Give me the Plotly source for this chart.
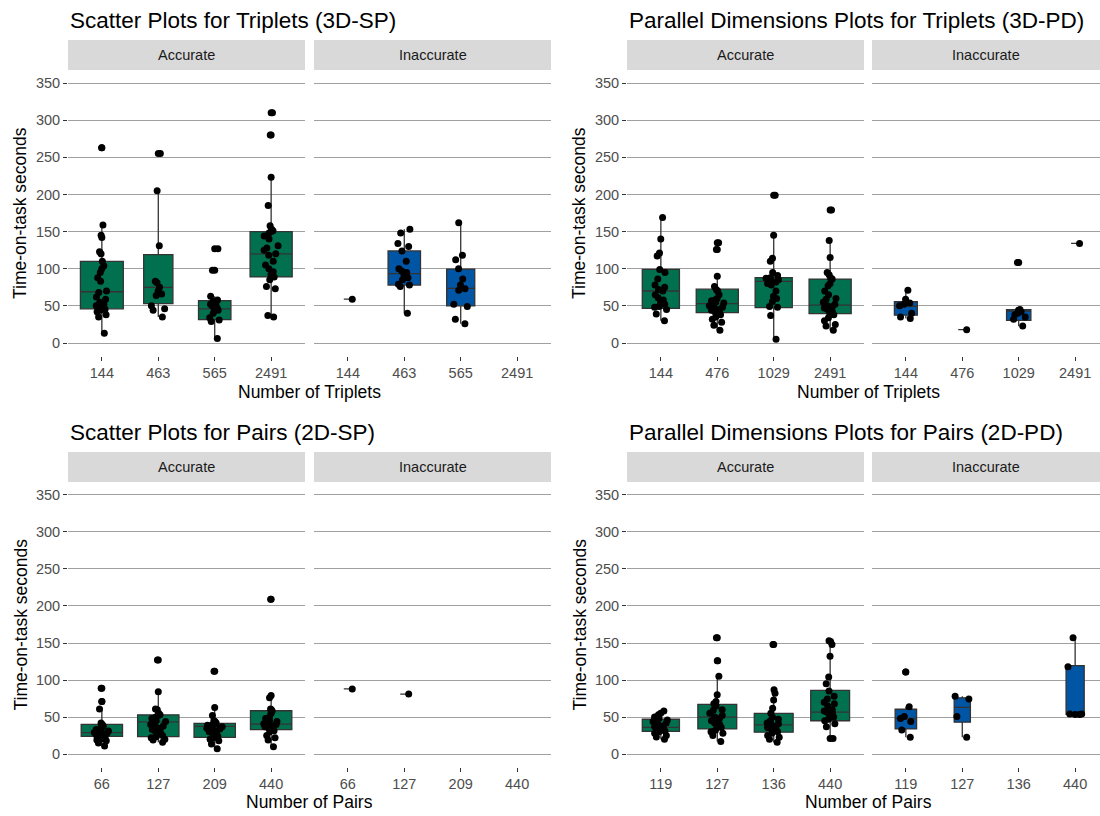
import math
import plotly.graph_objects as go

# ---------------- DATA ----------------
TRIPLET_SP_CATS = ["144", "463", "565", "2491"]
TRIPLET_PD_CATS = ["144", "476", "1029", "2491"]
PAIR_SP_CATS = ["66", "127", "209", "440"]
PAIR_PD_CATS = ["119", "127", "136", "440"]

# 3D-SP Accurate
SP3_ACC_PTS = [
    [263, 159, 145, 142, 123, 120, 110, 104, 100, 95, 88, 83, 70, 68, 62, 59, 55, 52, 50, 49, 47, 46, 45, 44, 42, 38, 35, 13],
    [255, 205, 131, 83, 81, 75, 70, 66, 64, 50, 46, 44, 35],
    [127, 98, 63, 58, 56, 53, 52, 50, 47, 45, 44, 40, 34, 31, 29, 6],
    [310, 280, 223, 185, 158, 153, 151, 150, 148, 144, 140, 131, 128, 125, 120, 118, 110, 105, 100, 96, 92, 89, 85, 76, 73, 37, 35],
]
SP3_ACC_Q1 = [46, 53, 31.5, 89]
SP3_ACC_MED = [69, 75, 46, 120]
SP3_ACC_Q3 = [110, 119, 57, 150]
SP3_ACC_LO = [13, 35, 6, 35]
SP3_ACC_HI = [159, 206, 63, 223]

# 3D-SP Inaccurate
SP3_INA_PTS = [
    [59],
    [153, 148, 134, 130, 124, 110, 100, 97, 95, 92, 88, 85, 79, 78, 76, 40],
    [162, 118, 112, 100, 86, 78, 73, 71, 52, 49, 32, 26],
    [],
]
SP3_INA_Q1 = [59, 78, 50, None]
SP3_INA_MED = [59, 93.5, 73.5, None]
SP3_INA_Q3 = [59, 124, 99.5, None]
SP3_INA_LO = [59, 40, 26, None]
SP3_INA_HI = [59, 153, 162, None]

# 3D-PD Accurate
PD3_ACC_PTS = [
    [169, 140, 121, 117, 99, 95, 86, 78, 75, 72, 70, 65, 61, 58, 55, 52, 49, 48, 45, 39, 30],
    [135, 126, 90, 76, 72, 70, 65, 60, 58, 57, 55, 54, 52, 50, 48, 47, 45, 44, 42, 41, 40, 38, 35, 32, 28, 24, 17],
    [199, 145, 114, 110, 95, 91, 88, 87, 85, 84, 82, 80, 78, 70, 63, 60, 56, 49, 48, 37, 5],
    [179, 138, 115, 95, 92, 88, 86, 80, 77, 70, 65, 60, 59, 55, 52, 50, 49, 47, 45, 42, 40, 38, 34, 30, 25, 23, 17],
]
PD3_ACC_Q1 = [46.5, 41, 47.5, 39.5]
PD3_ACC_MED = [70, 53, 83, 51]
PD3_ACC_Q3 = [99, 72.5, 88, 86]
PD3_ACC_LO = [30, 17, 5, 17]
PD3_ACC_HI = [169, 90, 145, 138]

# 3D-PD Inaccurate
PD3_INA_PTS = [
    [71, 59, 54, 52, 50, 40, 35, 33],
    [18],
    [108.5, 45, 44, 42, 40, 38, 35, 32, 23],
    [134],
]
PD3_INA_Q1 = [37.5, 18, 30.5, 134]
PD3_INA_MED = [49.5, 18, 43, 134]
PD3_INA_Q3 = [55.5, 18, 45, 134]
PD3_INA_LO = [33, 18, 22.5, 134]
PD3_INA_HI = [71, 18, 45, 134]

# 2D-SP Accurate
SP2_ACC_PTS = [
    [89, 71, 61, 42, 40, 38, 36, 35, 33, 32, 31, 30, 29, 28, 27, 27, 26, 25, 24, 23.5, 22, 20, 19, 18, 15, 11],
    [127, 84, 61, 60, 55, 53, 52, 50, 48, 45, 44, 42, 40, 38, 37, 35, 33, 30, 28, 27, 25, 23.5, 22, 20, 19, 16],
    [112, 63, 52, 45, 44, 42, 41, 40, 39, 38, 37, 36, 35, 34, 33, 31, 30, 28, 27, 25, 24, 22, 20, 18, 13.5, 7],
    [209, 79, 76, 61, 60, 58, 55, 50, 48, 45, 44, 42, 41, 40, 39, 38, 37, 35, 34, 33, 31.6, 30, 25, 22, 19, 10],
]
SP2_ACC_Q1 = [24, 23.5, 22.5, 33]
SP2_ACC_MED = [29, 43.5, 37.5, 40.5]
SP2_ACC_Q3 = [40, 53, 41.5, 58.5]
SP2_ACC_LO = [11, 16, 7, 10]
SP2_ACC_HI = [61, 84, 63, 79]

# 2D-SP Inaccurate
SP2_INA_PTS = [[88], [81], [], []]
SP2_INA_Q1 = [88, 81, None, None]
SP2_INA_MED = [88, 81, None, None]
SP2_INA_Q3 = [88, 81, None, None]
SP2_INA_LO = [88, 81, None, None]
SP2_INA_HI = [88, 81, None, None]

# 2D-PD Accurate
PD2_ACC_PTS = [
    [58, 55, 53, 50, 48, 46, 45, 44, 42, 40, 38, 37, 36, 35, 33, 31, 30, 28, 25, 23, 20],
    [157, 126, 105, 80, 71, 68, 65, 60, 59, 55, 52, 50, 48, 45, 42, 40, 38, 36, 32, 30, 28, 25, 17],
    [148, 87, 82, 73, 62, 55, 50, 47, 45, 42, 41, 40, 38, 36, 35, 33, 32.5, 30, 28, 25, 22.6, 20, 16],
    [153, 152, 148, 132, 104, 95, 85, 78, 74.5, 70, 68, 65, 60, 58, 56, 55, 52, 50, 47, 45, 41, 37, 21],
]
PD2_ACC_Q1 = [30.5, 34, 29.5, 45]
PD2_ACC_MED = [36, 50, 39.5, 56.5]
PD2_ACC_Q3 = [47, 67, 55, 86]
PD2_ACC_LO = [20, 17, 16, 22.5]
PD2_ACC_HI = [58, 105, 87, 153]

# 2D-PD Inaccurate
PD2_INA_PTS = [
    [111, 64, 50.6, 48, 44, 32.5, 22.6],
    [78, 74.5, 50.6, 22.6],
    [],
    [157, 118, 54, 54, 53.5],
]
PD2_INA_Q1 = [34, 43, None, 53.7]
PD2_INA_MED = [48, 63, None, 54.7]
PD2_INA_Q3 = [60.5, 76, None, 119.5]
PD2_INA_LO = [22.6, 22.6, None, 53.7]
PD2_INA_HI = [64, 78, None, 157]

Y_TICKS = [0, 50, 100, 150, 200, 250, 300, 350]
FACETS = ["Accurate", "Inaccurate"]
TITLES = [
    "Scatter Plots for Triplets (3D-SP)",
    "Parallel Dimensions Plots for Triplets (3D-PD)",
    "Scatter Plots for Pairs (2D-SP)",
    "Parallel Dimensions Plots for Pairs (2D-PD)",
]
X_TITLES = ["Number of Triplets", "Number of Triplets", "Number of Pairs", "Number of Pairs"]
Y_TITLE = "Time-on-task seconds"

# ---------------- STYLE / LAYOUT ----------------
W, H = 1100, 816
GREEN = "#00704F"
BLUE = "#0055A5"
FONT = "Liberation Sans, Arial, sans-serif"
GRID = "#A0A0A0"

def fx(p):
    return p / W

def fy(p):
    return 1 - p / H

COLS = [((68, 305), (314, 551)), ((627, 864), (872, 1100))]
ROWS = [dict(plot=(70, 356), strip=(40, 70), title=20, xtitle=392),
        dict(plot=(482, 767), strip=(452, 482), title=432, xtitle=802)]

PANELS = [
    (0, 0, TRIPLET_SP_CATS,
     (SP3_ACC_PTS, SP3_ACC_Q1, SP3_ACC_MED, SP3_ACC_Q3, SP3_ACC_LO, SP3_ACC_HI),
     (SP3_INA_PTS, SP3_INA_Q1, SP3_INA_MED, SP3_INA_Q3, SP3_INA_LO, SP3_INA_HI)),
    (0, 1, TRIPLET_PD_CATS,
     (PD3_ACC_PTS, PD3_ACC_Q1, PD3_ACC_MED, PD3_ACC_Q3, PD3_ACC_LO, PD3_ACC_HI),
     (PD3_INA_PTS, PD3_INA_Q1, PD3_INA_MED, PD3_INA_Q3, PD3_INA_LO, PD3_INA_HI)),
    (1, 0, PAIR_SP_CATS,
     (SP2_ACC_PTS, SP2_ACC_Q1, SP2_ACC_MED, SP2_ACC_Q3, SP2_ACC_LO, SP2_ACC_HI),
     (SP2_INA_PTS, SP2_INA_Q1, SP2_INA_MED, SP2_INA_Q3, SP2_INA_LO, SP2_INA_HI)),
    (1, 1, PAIR_PD_CATS,
     (PD2_ACC_PTS, PD2_ACC_Q1, PD2_ACC_MED, PD2_ACC_Q3, PD2_ACC_LO, PD2_ACC_HI),
     (PD2_INA_PTS, PD2_INA_Q1, PD2_INA_MED, PD2_INA_Q3, PD2_INA_LO, PD2_INA_HI)),
]

N_MAX = max(len(p) for panel in PANELS for grp in (panel[3], panel[4]) for p in grp[0])
BOX_W = 0.76
FULL_FACET_W = 237.0

fig = go.Figure()
layout = dict(
    width=W, height=H, margin=dict(l=0, r=0, t=0, b=0),
    paper_bgcolor="white", plot_bgcolor="white",
    font=dict(family=FONT, color="#000000"),
    showlegend=False, boxmode="overlay",
)
shapes, annotations = [], []

k = 0
for row, col, cats, acc, ina in PANELS:
    r = ROWS[row]
    for f, (grp, color) in enumerate([(acc, GREEN), (ina, BLUE)]):
        k += 1
        xa, ya = f"x{k}", f"y{k}"
        x0, x1 = COLS[col][f]
        width_px = x1 - x0
        xr = [0.4, 0.4 + 4.2 * width_px / FULL_FACET_W]
        layout[f"xaxis{k}"] = dict(
            domain=[fx(x0), fx(x1)], anchor=ya, range=xr,
            tickmode="array", tickvals=[1, 2, 3, 4], ticktext=cats,
            ticks="outside", ticklen=4, tickwidth=1, tickcolor="#333333",
            tickfont=dict(size=14.5, color="#4D4D4D", family=FONT),
            showgrid=False, zeroline=False, showline=False, fixedrange=True,
        )
        layout[f"yaxis{k}"] = dict(
            domain=[fy(r["plot"][1]), fy(r["plot"][0])], anchor=xa,
            range=[-17.5, 367.5], tickmode="array", tickvals=Y_TICKS,
            showgrid=True, gridcolor=GRID, gridwidth=1.3,
            zeroline=False, showline=False, fixedrange=True,
            ticks="outside" if f == 0 else "", ticklen=4, tickcolor="#333333",
            showticklabels=(f == 0),
            tickfont=dict(size=14.5, color="#4D4D4D", family=FONT),
        )
        pts_all, q1, med, q3, lo, hi = grp
        for i, pts in enumerate(pts_all):
            if not pts:
                continue
            pos = i + 1
            w = BOX_W * math.sqrt(len(pts) / N_MAX)
            fig.add_trace(go.Box(
                x=[pos], q1=[q1[i]], median=[med[i]], q3=[q3[i]],
                lowerfence=[lo[i]], upperfence=[hi[i]],
                width=w, fillcolor=color, whiskerwidth=0,
                line=dict(color="#333333", width=1.3),
                boxpoints=False, xaxis=xa, yaxis=ya, hoverinfo="skip",
            ))
            outl = [v for v in pts if v < lo[i] or v > hi[i]]
            if outl:
                fig.add_trace(go.Scatter(
                    x=[pos] * len(outl), y=outl, mode="markers",
                    marker=dict(color="black", size=7),
                    xaxis=xa, yaxis=ya, hoverinfo="skip",
                ))
            fig.add_trace(go.Box(
                x=[pos] * len(pts), y=pts, boxpoints="all", jitter=1, pointpos=0,
                width=0.3, fillcolor="rgba(0,0,0,0)",
                line=dict(width=0, color="rgba(0,0,0,0)"),
                marker=dict(color="black", size=7),
                xaxis=xa, yaxis=ya, hoverinfo="skip",
            ))
        shapes.append(dict(type="rect", xref="paper", yref="paper",
                           x0=fx(x0), x1=fx(x1), y0=fy(r["strip"][1]), y1=fy(r["strip"][0]),
                           fillcolor="#D9D9D9", line=dict(width=0), layer="below"))
        annotations.append(dict(text=FACETS[f], xref="paper", yref="paper",
                                x=fx((x0 + x1) / 2), y=fy(sum(r["strip"]) / 2),
                                showarrow=False, xanchor="center", yanchor="middle",
                                font=dict(size=14.5, color="#1A1A1A", family=FONT)))
    left = COLS[col][0][0]
    full_right = COLS[col][0][0] + 2 * FULL_FACET_W + (COLS[col][1][0] - COLS[col][0][1])
    pidx = row * 2 + col
    annotations.append(dict(text=TITLES[pidx], xref="paper", yref="paper",
                            x=fx(left), y=fy(r["title"]), showarrow=False,
                            xanchor="left", yanchor="middle",
                            font=dict(size=22.5, color="#000000", family=FONT)))
    annotations.append(dict(text=X_TITLES[pidx], xref="paper", yref="paper",
                            x=fx((left + full_right) / 2), y=fy(r["xtitle"]), showarrow=False,
                            xanchor="center", yanchor="middle",
                            font=dict(size=17.5, color="#000000", family=FONT)))
    annotations.append(dict(text=Y_TITLE, xref="paper", yref="paper", textangle=-90,
                            x=fx(left - 48), y=fy(sum(r["plot"]) / 2), showarrow=False,
                            xanchor="center", yanchor="middle",
                            font=dict(size=17.5, color="#000000", family=FONT)))

layout["shapes"] = shapes
layout["annotations"] = annotations
fig.update_layout(**layout)
fig.write_html(
    "out.html",
    config={"displayModeBar": False},
    post_script="document.body.style.margin='0';document.body.style.padding='0';document.body.style.overflow='hidden';",
)
